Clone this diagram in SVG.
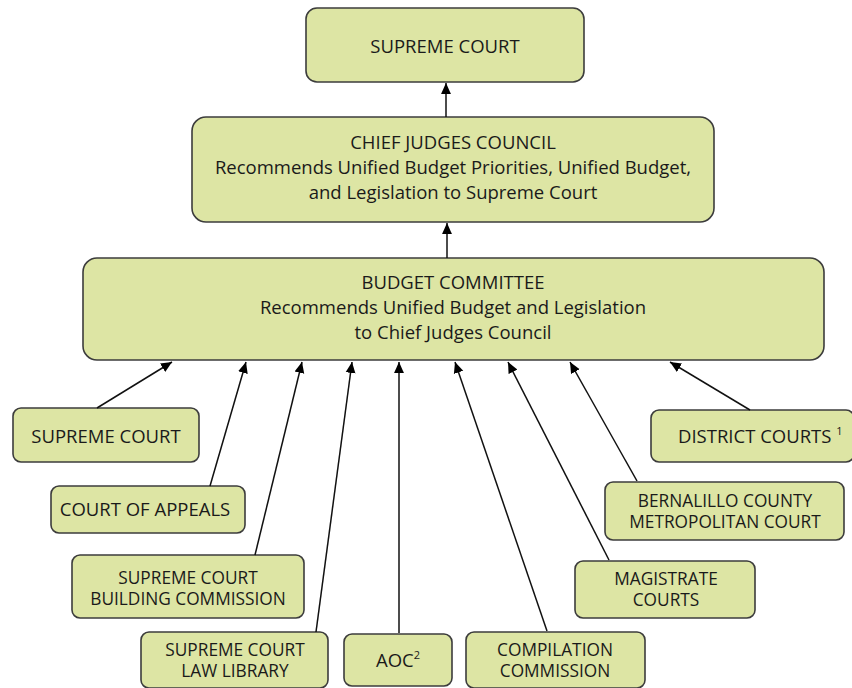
<svg xmlns="http://www.w3.org/2000/svg" width="852" height="688" viewBox="0 0 852 688">
<defs>
<marker id="ah" viewBox="0 0 10 10" refX="10" refY="5" markerWidth="11" markerHeight="11" markerUnits="userSpaceOnUse" orient="auto">
<path d="M0,0.5 L10,5 L0,9.5 Z" fill="#000"/>
</marker>
<style>
.b{fill:#dde5a4;stroke:#3c3c3c;stroke-width:1.6}
text{font-family:"Open Sans","Liberation Sans",sans-serif;font-size:18.5px;fill:#1a1a1a;text-anchor:middle}
.t{font-size:17.3px}
.c{stroke:#111;stroke-width:1.5;fill:none;marker-end:url(#ah)}
</style>
</defs>
<g id="supreme-top"><rect class="b" x="306" y="8" width="278" height="74" rx="11"/><text x="445" y="53">SUPREME COURT</text></g>
<g id="cjc"><rect class="b" x="192" y="117" width="522" height="105" rx="14"/>
<text x="453" y="149">CHIEF JUDGES COUNCIL</text>
<text x="453" y="174">Recommends Unified Budget Priorities, Unified Budget,</text>
<text x="453" y="199">and Legislation to Supreme Court</text></g>
<g id="bc"><rect class="b" x="83" y="258" width="741" height="102" rx="14"/>
<text x="453" y="289">BUDGET COMMITTEE</text>
<text x="453" y="314">Recommends Unified Budget and Legislation</text>
<text x="453" y="339">to Chief Judges Council</text></g>
<g id="sc"><rect class="b" x="13" y="408" width="186" height="54" rx="8"/><text x="106" y="443">SUPREME COURT</text></g>
<g id="coa"><rect class="b" x="51" y="486" width="194" height="47" rx="8"/><text x="145" y="516">COURT OF APPEALS</text></g>
<g id="scbc"><rect class="b" x="72" y="555" width="232" height="63" rx="8"/><text class="t" x="188" y="583.5">SUPREME COURT</text><text class="t" x="188" y="604.5">BUILDING COMMISSION</text></g>
<g id="scll"><rect class="b" x="141" y="632" width="187" height="56" rx="8"/><text class="t" x="235" y="655.5">SUPREME COURT</text><text class="t" x="235" y="676.5">LAW LIBRARY</text></g>
<g id="aoc"><rect class="b" x="344" y="634" width="108" height="52" rx="8"/><text x="398" y="667">AOC<tspan font-size="11" dy="-8">2</tspan></text></g>
<g id="cc"><rect class="b" x="466" y="632" width="179" height="56" rx="8"/><text class="t" x="555" y="655.5">COMPILATION</text><text class="t" x="555" y="676.5">COMMISSION</text></g>
<g id="mc"><rect class="b" x="575" y="561" width="180" height="57" rx="8"/><text class="t" x="666" y="584.5">MAGISTRATE</text><text class="t" x="666" y="605.5">COURTS</text></g>
<g id="bcmc"><rect class="b" x="605" y="482" width="239" height="58" rx="8"/><text class="t" x="725" y="506.5">BERNALILLO COUNTY</text><text class="t" x="725" y="527.5">METROPOLITAN COURT</text></g>
<g id="dc"><rect class="b" x="651" y="410" width="203" height="52" rx="8"/><text x="678" y="443" style="text-anchor:start">DISTRICT COURTS <tspan font-size="11" dy="-8">1</tspan></text></g>
<g id="connectors">
<line class="c" x1="446" y1="117" x2="446" y2="83"/>
<line class="c" x1="447" y1="258" x2="447" y2="223"/>
<line class="c" x1="97" y1="408" x2="172" y2="362"/>
<line class="c" x1="210" y1="486" x2="246" y2="362"/>
<line class="c" x1="255" y1="555" x2="302" y2="362"/>
<line class="c" x1="316" y1="632" x2="352" y2="362"/>
<line class="c" x1="399" y1="633" x2="399" y2="362"/>
<line class="c" x1="547" y1="631" x2="455" y2="362"/>
<line class="c" x1="609" y1="560" x2="508" y2="362"/>
<line class="c" x1="637" y1="481" x2="570" y2="362"/>
<line class="c" x1="750" y1="410" x2="670" y2="362"/>
</g>
</svg>
